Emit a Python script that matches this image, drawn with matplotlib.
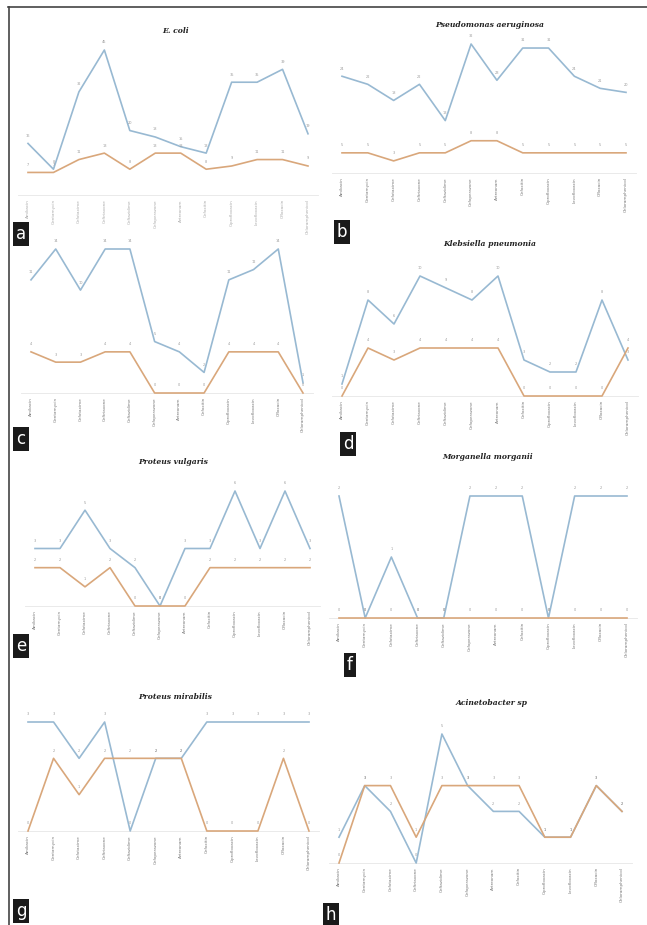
import matplotlib
matplotlib.use('Agg')
import matplotlib.pyplot as plt

# antibiotics on the x axis (same for every panel)
drugs = ['Amikacin', 'Gentamycin', 'Cefotaxime', 'Ceftriaxone', 'Ceftazidime', 'Cefoperazone',
         'Aztreonam', 'Cefoxitin', 'Ciprofloxacin', 'Levofloxacin', 'Ofloxacin', 'Chloramphenicol']

titles = ['E. coli', 'Pseudomonas aeruginosa', '', 'Klebsiella pneumonia',
          'Proteus vulgaris', 'Morganella morganii', 'Proteus mirabilis', 'Acinetobacter sp']
letters = ['a', 'b', 'c', 'd', 'e', 'f', 'g', 'h']

ecoli_blue = [16, 8, 32, 45, 20, 18, 15, 13, 35, 35, 39, 19]
ecoli_orange = [7, 7, 11, 13, 8, 13, 13, 8, 9, 11, 11, 9]
pseudo_blue = [24, 22, 18, 22, 13, 32, 23, 31, 31, 24, 21, 20]
pseudo_orange = [5, 5, 3, 5, 5, 8, 8, 5, 5, 5, 5, 5]
panelc_blue = [11, 14, 10, 14, 14, 5, 4, 2, 11, 12, 14, 1]
panelc_orange = [4, 3, 3, 4, 4, 0, 0, 0, 4, 4, 4, 0]
kleb_blue = [1, 8, 6, 10, 9, 8, 10, 3, 2, 2, 8, 3]
kleb_orange = [0, 4, 3, 4, 4, 4, 4, 0, 0, 0, 0, 4]
pvulg_blue = [3, 3, 5, 3, 2, 0, 3, 3, 6, 3, 6, 3]
pvulg_orange = [2, 2, 1, 2, 0, 0, 0, 2, 2, 2, 2, 2]
morg_blue = [2, 0, 1, 0, 0, 2, 2, 2, 0, 2, 2, 2]
morg_orange = [0, 0, 0, 0, 0, 0, 0, 0, 0, 0, 0, 0]
pmir_blue = [3, 3, 2, 3, 0, 2, 2, 3, 3, 3, 3, 3]
pmir_orange = [0, 2, 1, 2, 2, 2, 2, 0, 0, 0, 2, 0]
acin_blue = [1, 3, 2, 0, 5, 3, 2, 2, 1, 1, 3, 2]
acin_orange = [0, 3, 3, 1, 3, 3, 3, 3, 1, 1, 3, 2]

blues = [ecoli_blue, pseudo_blue, panelc_blue, kleb_blue, pvulg_blue, morg_blue, pmir_blue, acin_blue]
oranges = [ecoli_orange, pseudo_orange, panelc_orange, kleb_orange, pvulg_orange, morg_orange,
           pmir_orange, acin_orange]

W, H = 647, 925
BLUE = '#98b9d2'
ORANGE = '#d9a77b'

# pixel layout: first point x, last point x, baseline y, y of max value
geom = [(28, 308, 195, 50), (342, 626, 173, 44), (31, 303, 393, 249), (342, 628, 396, 276),
        (35, 310, 606, 491), (339, 627, 618, 496), (28, 309, 831, 722), (339, 622, 863, 734)]
title_pos = [(175, 31), (490, 25), (175, 0), (490, 244), (173, 462), (488, 457), (175, 697), (492, 703)]
letter_pos = [(10, 223), (331, 221), (10, 428), (337, 433), (10, 635), (339, 654), (10, 900), (320, 904)]

fig = plt.figure(figsize=(W / 100, H / 100), dpi=100)

x = list(range(len(drugs)))
for i in range(8):
    p0, p11, yb, yt = geom[i]
    vmax = max(max(blues[i]), max(oranges[i]))
    s = (p11 - p0) / 11
    xl0, xl1 = -0.4, 11.4
    left = p0 + xl0 * s
    width = (xl1 - xl0) * s
    sy = (yb - yt) / vmax
    ytop = vmax * 1.12
    height = ytop * sy
    ax = fig.add_axes([left / W, 1 - yb / H, width / W, height / H])
    ax.plot(x, blues[i], color=BLUE, lw=1.2, clip_on=False, zorder=3)
    ax.plot(x, oranges[i], color=ORANGE, lw=1.2, clip_on=False, zorder=4)
    for xi, v in zip(x, blues[i]):
        ax.annotate(str(v), (xi, v), xytext=(0, 4), textcoords='offset points',
                    ha='center', va='bottom', fontsize=2.5, color='#999999')
    for xi, v in zip(x, oranges[i]):
        ax.annotate(str(v), (xi, v), xytext=(0, 4), textcoords='offset points',
                    ha='center', va='bottom', fontsize=2.5, color='#999999')
    ax.set_xlim(xl0, xl1)
    ax.set_ylim(0, ytop)
    ax.set_yticks([])
    ax.set_xticks(x)
    ax.set_xticklabels(drugs, rotation=90, fontsize=3, color='#777777' if i else '#aaaaaa')
    ax.tick_params(axis='x', length=0, pad=3)
    for sp in ['top', 'right', 'left']:
        ax.spines[sp].set_visible(False)
    ax.spines['bottom'].set_color('#e6e6e6')
    ax.spines['bottom'].set_linewidth(0.6)
    ax.patch.set_alpha(0)

    if titles[i]:
        tx, ty = title_pos[i]
        fig.text(tx / W, 1 - ty / H, titles[i], ha='center', va='center', fontsize=5.5,
                 family='DejaVu Serif', weight='bold', style='italic', color='#222222')
    lx, ly = letter_pos[i]
    fig.text((lx + 11) / W, 1 - (ly + 11) / H, letters[i], ha='center', va='center',
             fontsize=12, color='white',
             bbox=dict(boxstyle='square,pad=0.18', fc='#1a1a1a', ec='none'))

# frame lines around the figure
fig.add_artist(plt.Line2D([8 / W, 1], [1 - 7 / H, 1 - 7 / H], color='#444444', lw=1.2))
fig.add_artist(plt.Line2D([9 / W, 9 / W], [1 - 7 / H, 0], color='#444444', lw=1.2))

fig.savefig('out.png', dpi=100)
